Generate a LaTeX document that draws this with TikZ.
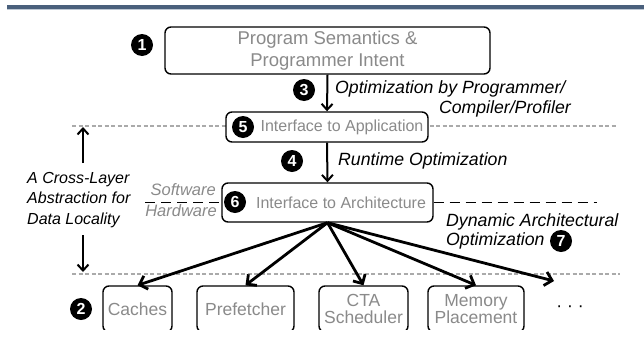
\documentclass[tikz,border=0pt]{standalone}
\usepackage{fontspec}
\setmainfont{Liberation Sans}
\usetikzlibrary{arrows.meta}
\definecolor{barblue}{RGB}{74,96,124}
\definecolor{barlight}{RGB}{190,200,212}
\definecolor{txtgray}{RGB}{138,138,138}
\definecolor{dashgray}{RGB}{170,170,170}
\begin{document}
\begin{tikzpicture}[x=1pt,y=-1pt,
  box/.style={draw=black, line width=1.4pt, rounded corners=6pt, fill=white, inner sep=0pt},
  badge/.style={circle, fill=black, text=white, minimum size=22pt, inner sep=0pt, font=\fontsize{16}{16}\selectfont\bfseries},
  graytext/.style={text=txtgray, inner sep=0pt},
  lab/.style={inner sep=0pt, font=\fontsize{17.7}{20}\selectfont\itshape},
  arr/.style={line width=2pt, -{Straight Barb[length=6pt,width=11pt]}},
  fan/.style={line width=2.8pt, -{Straight Barb[length=7pt,width=14pt]}},
  grayline/.style={draw=dashgray, line width=1.2pt, dash pattern=on 4pt off 2.5pt},
  blackdash/.style={line width=1.8pt, dash pattern=on 10pt off 6pt},
]
\useasboundingbox (0,0) rectangle (644,343);
% top bar
\fill[barblue] (7,5) rectangle (644,9);
\fill[barlight] (7,9) rectangle (644,10.2);
% gray dashed separators
\coordinate (gla) at (72,126);
\coordinate (glb) at (616,126);
\coordinate (gma) at (72,274);
\coordinate (gmb) at (620,274);
\draw[grayline] (gla) -- (glb);
\draw[grayline] (gma) -- (gmb);
% top box
\node[box, graytext, minimum width=325pt, minimum height=47pt, align=center,
      font=\fontsize{18.5}{21.5}\selectfont] (top) at (327.5,50.5) {Program Semantics \&\\Programmer Intent};
\node[badge] (b1) at (142,45) {1};
% interface to application
\node[box, minimum width=202pt, minimum height=30pt] (app) at (327,127) {};
\node[badge] (b5) at (243,127) {5};
\node[graytext, font=\fontsize{16}{16}\selectfont] (appt) at (342,127) {Interface to Application};
% interface to architecture
\node[box, minimum width=211pt, minimum height=39pt] (arch) at (327.5,202.5) {};
\node[badge] (b6) at (235,202) {6};
\node[graytext, font=\fontsize{16}{16}\selectfont] (archt) at (341,203) {Interface to Architecture};
% arrows 3 and 4
\draw[arr] (top.south) -- (app.north);
\draw[arr] (app.south) -- (arch.north);
\node[badge] (b3) at (304,90) {3};
\node[lab, anchor=west] (l3a) at (335,89) {Optimization by Programmer/};
\node[lab, anchor=east] (l3b) at (571,109) {Compiler/Profiler};
\node[badge] (b4) at (292,161) {4};
\node[lab, anchor=west] (l4) at (338,161) {Runtime Optimization};
% software / hardware
\node[graytext, anchor=east, font=\fontsize{16.5}{16.5}\selectfont\itshape] (sw) at (216,190) {Software};
\node[graytext, anchor=east, font=\fontsize{16.5}{16.5}\selectfont\itshape] (hw) at (217,211) {Hardware};
\coordinate (dl) at (145,202.5);
\coordinate (dr) at (597,202.5);
\draw[blackdash] (dl) -- (arch.west);
\draw[blackdash] (arch.east) -- (dr);
% left text and arrows
\node[anchor=west, align=left, inner sep=0pt, font=\fontsize{16}{20.5}\selectfont\itshape] (cross) at (27,200) {A Cross-Layer\\Abstraction for\\Data Locality};
\coordinate (ua) at (83,163);
\coordinate (ub) at (83,127);
\coordinate (da) at (83,235);
\coordinate (db) at (83,272);
\draw[arr] (ua) -- (ub);
\draw[arr] (da) -- (db);
% dynamic label
\node[lab, anchor=west] (dyn1) at (446,222) {Dynamic Architectural};
\node[lab, anchor=west] (dyn2) at (446,241) {Optimization};
\node[badge] (b7) at (561,241) {7};
% bottom boxes
\begin{scope}
\clip (0,0) rectangle (644,329);
\node[box, graytext, minimum width=69pt, minimum height=46pt, font=\fontsize{17.5}{16.5}\selectfont] (cache) at (137.5,309) {Caches};
\node[box, graytext, minimum width=97pt, minimum height=46pt, font=\fontsize{17.5}{16.5}\selectfont] (pref) at (245.5,309) {Prefetcher};
\node[box, graytext, minimum width=89pt, minimum height=46pt, align=center, font=\fontsize{17.5}{16.5}\selectfont] (cta) at (363.5,309) {CTA\\Scheduler};
\node[box, graytext, minimum width=96pt, minimum height=46pt, align=center, font=\fontsize{17.5}{16.5}\selectfont] (mem) at (476,309) {Memory\\Placement};
\end{scope}
\node[badge] (b2) at (81,309) {2};
\node[inner sep=0pt, font=\fontsize{17.5}{17.5}\selectfont] (dots) at (570,309) {·\hspace{5pt}·\hspace{5pt}·};
\coordinate (more) at (554,281);
% fan arrows
\draw[fan] (arch.south) -- (cache.north);
\draw[fan] (arch.south) -- (pref.north);
\draw[fan] (arch.south) -- (cta.north);
\draw[fan] (arch.south) -- (mem.north);
\draw[fan] (arch.south) -- (more);
\end{tikzpicture}
\end{document}
